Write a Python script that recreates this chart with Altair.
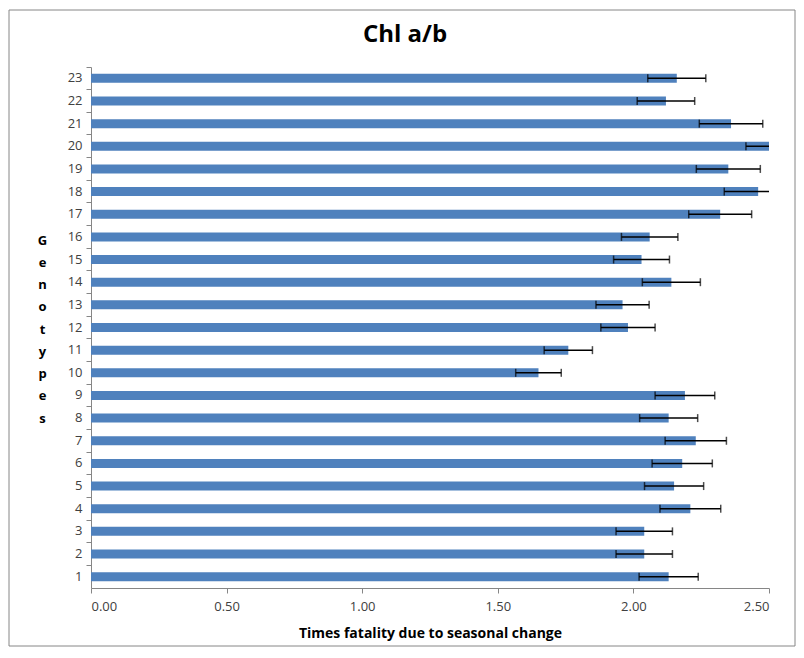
import altair as alt
import pandas as pd

genotypes = list(range(1, 24))
means = [2.13, 2.04, 2.04, 2.21, 2.15, 2.18, 2.23, 2.13, 2.19, 1.65, 1.76, 1.98,
         1.96, 2.14, 2.03, 2.06, 2.32, 2.46, 2.35, 2.51, 2.36, 2.12, 2.16]
errs = [0.109, 0.104, 0.104, 0.112, 0.109, 0.111, 0.113, 0.107, 0.110, 0.084, 0.089, 0.100,
        0.098, 0.107, 0.103, 0.104, 0.116, 0.125, 0.118, 0.095, 0.117, 0.106, 0.107]
title_text = "Chl a/b"
x_title = "Times fatality due to seasonal change"
y_title_letters = list("Genotypes")

df = pd.DataFrame({"g": genotypes, "mean": means, "err": errs})
df["lo"] = df["mean"] - df["err"]
df["hi"] = df["mean"] + df["err"]

FONT = "Open Sans"
W, H = 678, 521

xscale = alt.Scale(domain=[0, 2.5], nice=False, zero=True)
yscale = alt.Scale(paddingInner=0, paddingOuter=0)

yaxis = alt.Axis(
    title=y_title_letters, titleAngle=0, titleFont=FONT, titleFontSize=13,
    titleFontWeight="bold", titleColor="black", titleLineHeight=22.25,
    titleX=-49, titleY=173, titleAlign="center", titleBaseline="middle",
    labelFont=FONT, labelFontSize=13, labelColor="#404040", labelPadding=4,
    tickSize=5, tickColor="#868686", domainColor="#868686", bandPosition=0,
    grid=False,
)
xaxis = alt.Axis(
    title=x_title, titleFont=FONT, titleFontSize=14, titleFontWeight="bold",
    titleColor="black", titleY=49, titleBaseline="alphabetic",
    labelFont=FONT, labelFontSize=13, labelColor="#404040", labelPadding=7,
    tickSize=5, tickColor="#868686", domainColor="#868686",
    values=[0, 0.5, 1.0, 1.5, 2.0, 2.5], format=".2f", grid=False,
)

base = alt.Chart(df)
y = alt.Y("g:O", sort="descending", scale=yscale, axis=yaxis)

bars = base.mark_bar(size=9, color="#4F81BD", clip=True).encode(
    x=alt.X("mean:Q", scale=xscale, axis=xaxis), y=y
)
rule = base.mark_rule(color="black", strokeWidth=1.5, clip=True).encode(
    x="lo:Q", x2="hi:Q", y=y
)
cap_lo = base.mark_tick(orient="vertical", size=8, thickness=1.5, color="black", clip=True).encode(
    x="lo:Q", y=y
)
cap_hi = base.mark_tick(orient="vertical", size=8, thickness=1.5, color="black", clip=True).encode(
    x="hi:Q", y=y
)

one = pd.DataFrame({"t": [title_text]})
title = alt.Chart(one).mark_text(
    font=FONT, fontSize=24, fontWeight="bold", color="black",
    align="center", baseline="alphabetic"
).encode(text="t:N", x=alt.value(314), y=alt.value(-25))

border = alt.Chart(one).mark_rect(fillOpacity=0, stroke="#868686", strokeWidth=1).encode(
    x=alt.value(-82), x2=alt.value(704), y=alt.value(-57), y2=alt.value(579)
)

chart = alt.layer(border, bars, rule, cap_lo, cap_hi, title).properties(
    width=W, height=H,
    autosize="none",
    padding={"left": 83, "top": 59, "right": 27, "bottom": 60},
).configure_view(strokeWidth=0)

chart.save("out.html", embed_options={"renderer": "svg", "actions": False})
